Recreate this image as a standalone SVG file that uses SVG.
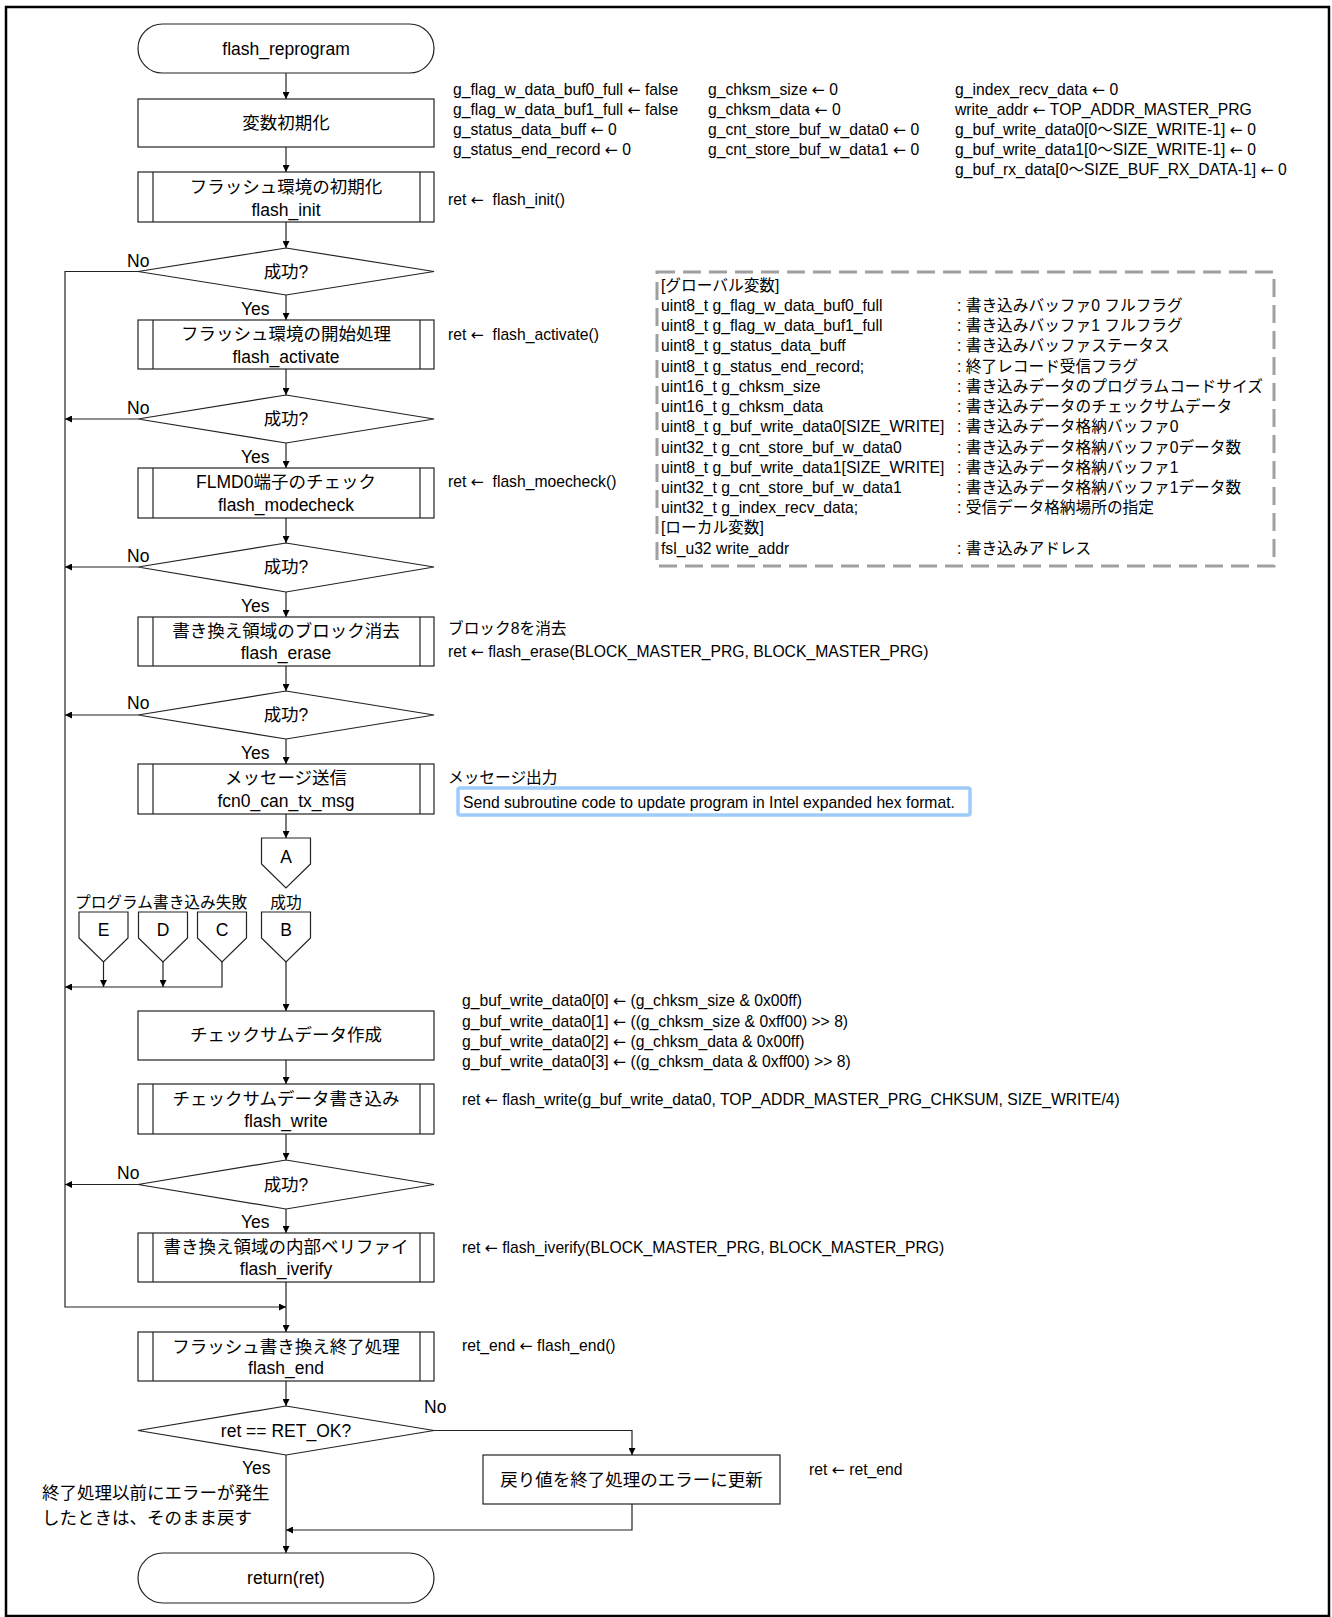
<svg xmlns="http://www.w3.org/2000/svg" width="1332" height="1617" viewBox="0 0 1332 1617">
<defs>
<marker id="ah" viewBox="0 0 10 10" refX="10" refY="5" markerWidth="8" markerHeight="7" markerUnits="userSpaceOnUse" orient="auto"><path d="M0,0 L10,5 L0,10 z" fill="#000"/></marker>
<style>
.n{fill:#fff;stroke:#222;stroke-width:1.2}
.sub{stroke:#222;stroke-width:1.2}
.c{fill:none;stroke:#222;stroke-width:1.2}
.ca{fill:none;stroke:#222;stroke-width:1.2;marker-end:url(#ah)}
.t{font-family:"Liberation Sans","Noto Sans CJK JP",sans-serif;font-size:17.5px;fill:#000}
.m{text-anchor:middle}
.a{font-family:"Liberation Sans","Noto Sans CJK JP",sans-serif;font-size:15.7px;fill:#000}
.ar{font-family:"DejaVu Sans",sans-serif}
</style>
</defs>
<rect x="6" y="7" width="1323" height="1609" fill="#fff" stroke="#000" stroke-width="2.5"/>

<g id="connectors">
<line class="ca" x1="286" y1="73" x2="286" y2="99"/>
<line class="ca" x1="286" y1="147" x2="286" y2="172"/>
<line class="ca" x1="286" y1="222" x2="286" y2="248"/>
<line class="ca" x1="286" y1="295" x2="286" y2="320"/>
<line class="ca" x1="286" y1="369" x2="286" y2="395"/>
<line class="ca" x1="286" y1="443" x2="286" y2="468"/>
<line class="ca" x1="286" y1="518" x2="286" y2="543"/>
<line class="ca" x1="286" y1="592" x2="286" y2="617"/>
<line class="ca" x1="286" y1="666" x2="286" y2="691"/>
<line class="ca" x1="286" y1="739" x2="286" y2="764"/>
<line class="ca" x1="286" y1="814" x2="286" y2="838"/>
<line class="ca" x1="286" y1="962" x2="286" y2="1011"/>
<line class="ca" x1="286" y1="1060" x2="286" y2="1084"/>
<line class="ca" x1="286" y1="1134" x2="286" y2="1160"/>
<line class="ca" x1="286" y1="1209" x2="286" y2="1233"/>
<line class="ca" x1="286" y1="1282" x2="286" y2="1332"/>
<line class="ca" x1="286" y1="1381" x2="286" y2="1406"/>
<line class="ca" x1="286" y1="1455" x2="286" y2="1553"/>
<path class="ca" d="M138,271.5 H65 V1307 H286"/>
<line class="ca" x1="138" y1="419" x2="65" y2="419"/>
<line class="ca" x1="138" y1="567" x2="65" y2="567"/>
<line class="ca" x1="138" y1="715" x2="65" y2="715"/>
<line class="ca" x1="138" y1="1184.5" x2="65" y2="1184.5"/>
<line class="ca" x1="103.5" y1="962" x2="103.5" y2="987"/>
<line class="ca" x1="163" y1="962" x2="163" y2="987"/>
<path class="ca" d="M222,962 V987 H65"/>
<path class="ca" d="M434,1430.5 H632 V1455"/>
<path class="ca" d="M632,1504 V1530 H286"/>
</g>

<g id="n_start">
<rect class="n" x="138" y="24" width="296" height="49" rx="24.5"/>
<text class="t m" x="286" y="55">flash_reprogram</text>
</g>
<g id="n_init_vars">
<rect class="n" x="138" y="99" width="296" height="48"/>
<text class="t m" x="286" y="129">変数初期化</text>
</g>
<g id="n_flash_init">
<rect class="n" x="138" y="172" width="296" height="50"/>
<line class="sub" x1="153" y1="172" x2="153" y2="222"/>
<line class="sub" x1="420" y1="172" x2="420" y2="222"/>
<text class="t m" x="286" y="193">フラッシュ環境の初期化</text>
<text class="t m" x="286" y="216">flash_init</text>
</g>
<g id="n_d1">
<polygon class="n" points="286,248 434,271.5 286,295 138,271.5"/>
<text class="t m" x="286" y="278">成功?</text>
<text class="t" x="127" y="267">No</text>
<text class="t" x="241" y="315">Yes</text>
</g>
<g id="n_activate">
<rect class="n" x="138" y="320" width="296" height="49"/>
<line class="sub" x1="153" y1="320" x2="153" y2="369"/>
<line class="sub" x1="420" y1="320" x2="420" y2="369"/>
<text class="t m" x="286" y="340">フラッシュ環境の開始処理</text>
<text class="t m" x="286" y="363">flash_activate</text>
</g>
<g id="n_d2">
<polygon class="n" points="286,395 434,419 286,443 138,419"/>
<text class="t m" x="286" y="425">成功?</text>
<text class="t" x="127" y="414">No</text>
<text class="t" x="241" y="463">Yes</text>
</g>
<g id="n_modecheck">
<rect class="n" x="138" y="468" width="296" height="50"/>
<line class="sub" x1="153" y1="468" x2="153" y2="518"/>
<line class="sub" x1="420" y1="468" x2="420" y2="518"/>
<text class="t m" x="286" y="488">FLMD0端子のチェック</text>
<text class="t m" x="286" y="511">flash_modecheck</text>
</g>
<g id="n_d3">
<polygon class="n" points="286,543 434,567 286,592 138,567"/>
<text class="t m" x="286" y="573">成功?</text>
<text class="t" x="127" y="562">No</text>
<text class="t" x="241" y="612">Yes</text>
</g>
<g id="n_erase">
<rect class="n" x="138" y="617" width="296" height="49"/>
<line class="sub" x1="153" y1="617" x2="153" y2="666"/>
<line class="sub" x1="420" y1="617" x2="420" y2="666"/>
<text class="t m" x="286" y="637">書き換え領域のブロック消去</text>
<text class="t m" x="286" y="659">flash_erase</text>
</g>
<g id="n_d4">
<polygon class="n" points="286,691 434,715 286,739 138,715"/>
<text class="t m" x="286" y="721">成功?</text>
<text class="t" x="127" y="709">No</text>
<text class="t" x="241" y="759">Yes</text>
</g>
<g id="n_msg">
<rect class="n" x="138" y="764" width="296" height="50"/>
<line class="sub" x1="153" y1="764" x2="153" y2="814"/>
<line class="sub" x1="420" y1="764" x2="420" y2="814"/>
<text class="t m" x="286" y="784">メッセージ送信</text>
<text class="t m" x="286" y="807">fcn0_can_tx_msg</text>
</g>
<g id="n_A">
<polygon class="n" points="261.5,838 310.5,838 310.5,864 286,888 261.5,864"/>
<text class="t m" x="286" y="863">A</text>
</g>
<text class="a m" x="286" y="908">成功</text>
<text class="a" x="75" y="908">プログラム書き込み失敗</text>
<g id="n_E">
<polygon class="n" points="79,912 128,912 128,938 103.5,962 79,938"/>
<text class="t m" x="103.5" y="936">E</text>
</g>
<g id="n_D">
<polygon class="n" points="138.5,912 187.5,912 187.5,938 163,962 138.5,938"/>
<text class="t m" x="163" y="936">D</text>
</g>
<g id="n_C">
<polygon class="n" points="197.5,912 246.5,912 246.5,938 222,962 197.5,938"/>
<text class="t m" x="222" y="936">C</text>
</g>
<g id="n_B">
<polygon class="n" points="261.5,912 310.5,912 310.5,938 286,962 261.5,938"/>
<text class="t m" x="286" y="936">B</text>
</g>
<g id="n_chksum">
<rect class="n" x="138" y="1011" width="296" height="49"/>
<text class="t m" x="286" y="1041">チェックサムデータ作成</text>
</g>
<g id="n_write">
<rect class="n" x="138" y="1084" width="296" height="50"/>
<line class="sub" x1="153" y1="1084" x2="153" y2="1134"/>
<line class="sub" x1="420" y1="1084" x2="420" y2="1134"/>
<text class="t m" x="286" y="1105">チェックサムデータ書き込み</text>
<text class="t m" x="286" y="1127">flash_write</text>
</g>
<g id="n_d5">
<polygon class="n" points="286,1160 434,1184.5 286,1209 138,1184.5"/>
<text class="t m" x="286" y="1191">成功?</text>
<text class="t" x="117" y="1179">No</text>
<text class="t" x="241" y="1228">Yes</text>
</g>
<g id="n_iverify">
<rect class="n" x="138" y="1233" width="296" height="49"/>
<line class="sub" x1="153" y1="1233" x2="153" y2="1282"/>
<line class="sub" x1="420" y1="1233" x2="420" y2="1282"/>
<text class="t m" x="286" y="1253">書き換え領域の内部ベリファイ</text>
<text class="t m" x="286" y="1275">flash_iverify</text>
</g>
<g id="n_end">
<rect class="n" x="138" y="1332" width="296" height="49"/>
<line class="sub" x1="153" y1="1332" x2="153" y2="1381"/>
<line class="sub" x1="420" y1="1332" x2="420" y2="1381"/>
<text class="t m" x="286" y="1353">フラッシュ書き換え終了処理</text>
<text class="t m" x="286" y="1374">flash_end</text>
</g>
<g id="n_d6">
<polygon class="n" points="286,1406 434,1430.5 286,1455 138,1430.5"/>
<text class="t m" x="286" y="1437">ret == RET_OK?</text>
<text class="t" x="424" y="1413">No</text>
<text class="t" x="242" y="1474">Yes</text>
</g>
<g id="n_update">
<rect class="n" x="483" y="1455" width="297" height="49"/>
<text class="t m" x="631.5" y="1486">戻り値を終了処理のエラーに更新</text>
</g>
<text class="t" x="42" y="1499">終了処理以前にエラーが発生</text>
<text class="t" x="42" y="1524">したときは、そのまま戻す</text>
<g id="n_return">
<rect class="n" x="138" y="1553" width="296" height="50" rx="25"/>
<text class="t m" x="286" y="1584">return(ret)</text>
</g>

<g id="annotations">
<text class="a" x="453" y="95">g_flag_w_data_buf0_full <tspan class="ar">←</tspan> false</text>
<text class="a" x="453" y="115">g_flag_w_data_buf1_full <tspan class="ar">←</tspan> false</text>
<text class="a" x="453" y="135">g_status_data_buff <tspan class="ar">←</tspan> 0</text>
<text class="a" x="453" y="155">g_status_end_record <tspan class="ar">←</tspan> 0</text>
<text class="a" x="708" y="95">g_chksm_size <tspan class="ar">←</tspan> 0</text>
<text class="a" x="708" y="115">g_chksm_data <tspan class="ar">←</tspan> 0</text>
<text class="a" x="708" y="135">g_cnt_store_buf_w_data0 <tspan class="ar">←</tspan> 0</text>
<text class="a" x="708" y="155">g_cnt_store_buf_w_data1 <tspan class="ar">←</tspan> 0</text>
<text class="a" x="955" y="95">g_index_recv_data <tspan class="ar">←</tspan> 0</text>
<text class="a" x="955" y="115">write_addr <tspan class="ar">←</tspan> TOP_ADDR_MASTER_PRG</text>
<text class="a" x="955" y="135">g_buf_write_data0[0～SIZE_WRITE-1] <tspan class="ar">←</tspan> 0</text>
<text class="a" x="955" y="155">g_buf_write_data1[0～SIZE_WRITE-1] <tspan class="ar">←</tspan> 0</text>
<text class="a" x="955" y="175">g_buf_rx_data[0～SIZE_BUF_RX_DATA-1] <tspan class="ar">←</tspan> 0</text>
<text class="a" x="448" y="205">ret <tspan class="ar">←</tspan>&#160; flash_init()</text>
<text class="a" x="448" y="340">ret <tspan class="ar">←</tspan>&#160; flash_activate()</text>
<text class="a" x="448" y="487">ret <tspan class="ar">←</tspan>&#160; flash_moecheck()</text>
<text class="a" x="448" y="634">ブロック8を消去</text>
<text class="a" x="448" y="657">ret <tspan class="ar">←</tspan> flash_erase(BLOCK_MASTER_PRG, BLOCK_MASTER_PRG)</text>
<text class="a" x="448" y="783">メッセージ出力</text>
<rect x="458" y="788" width="512" height="27" rx="2" fill="#fff" stroke="#9ecbfa" stroke-width="3.5"/>
<text class="a" x="463" y="808">Send subroutine code to update program in Intel expanded hex format.</text>
<text class="a" x="462" y="1006">g_buf_write_data0[0] <tspan class="ar">←</tspan> (g_chksm_size &amp; 0x00ff)</text>
<text class="a" x="462" y="1027">g_buf_write_data0[1] <tspan class="ar">←</tspan> ((g_chksm_size &amp; 0xff00) &gt;&gt; 8)</text>
<text class="a" x="462" y="1047">g_buf_write_data0[2] <tspan class="ar">←</tspan> (g_chksm_data &amp; 0x00ff)</text>
<text class="a" x="462" y="1067">g_buf_write_data0[3] <tspan class="ar">←</tspan> ((g_chksm_data &amp; 0xff00) &gt;&gt; 8)</text>
<text class="a" x="462" y="1105">ret <tspan class="ar">←</tspan> flash_write(g_buf_write_data0, TOP_ADDR_MASTER_PRG_CHKSUM, SIZE_WRITE/4)</text>
<text class="a" x="462" y="1253">ret <tspan class="ar">←</tspan> flash_iverify(BLOCK_MASTER_PRG, BLOCK_MASTER_PRG)</text>
<text class="a" x="462" y="1351">ret_end <tspan class="ar">←</tspan> flash_end()</text>
<text class="a" x="809" y="1475">ret <tspan class="ar">←</tspan> ret_end</text>
</g>

<g id="n_vars">
<rect x="657" y="272" width="617" height="294" fill="none" stroke="#a0a0a0" stroke-width="3" stroke-dasharray="18 8"/>
<text class="a" x="661" y="291">[グローバル変数]</text>
<text class="a" x="661" y="311">uint8_t g_flag_w_data_buf0_full</text>
<text class="a" x="661" y="331">uint8_t g_flag_w_data_buf1_full</text>
<text class="a" x="661" y="351">uint8_t g_status_data_buff</text>
<text class="a" x="661" y="372">uint8_t g_status_end_record;</text>
<text class="a" x="661" y="392">uint16_t g_chksm_size</text>
<text class="a" x="661" y="412">uint16_t g_chksm_data</text>
<text class="a" x="661" y="432">uint8_t g_buf_write_data0[SIZE_WRITE]</text>
<text class="a" x="661" y="453">uint32_t g_cnt_store_buf_w_data0</text>
<text class="a" x="661" y="473">uint8_t g_buf_write_data1[SIZE_WRITE]</text>
<text class="a" x="661" y="493">uint32_t g_cnt_store_buf_w_data1</text>
<text class="a" x="661" y="513">uint32_t g_index_recv_data;</text>
<text class="a" x="661" y="533">[ローカル変数]</text>
<text class="a" x="661" y="554">fsl_u32 write_addr</text>
<text class="a" x="957" y="311">: 書き込みバッファ0 フルフラグ</text>
<text class="a" x="957" y="331">: 書き込みバッファ1 フルフラグ</text>
<text class="a" x="957" y="351">: 書き込みバッファステータス</text>
<text class="a" x="957" y="372">: 終了レコード受信フラグ</text>
<text class="a" x="957" y="392">: 書き込みデータのプログラムコードサイズ</text>
<text class="a" x="957" y="412">: 書き込みデータのチェックサムデータ</text>
<text class="a" x="957" y="432">: 書き込みデータ格納バッファ0</text>
<text class="a" x="957" y="453">: 書き込みデータ格納バッファ0データ数</text>
<text class="a" x="957" y="473">: 書き込みデータ格納バッファ1</text>
<text class="a" x="957" y="493">: 書き込みデータ格納バッファ1データ数</text>
<text class="a" x="957" y="513">: 受信データ格納場所の指定</text>
<text class="a" x="957" y="554">: 書き込みアドレス</text>
</g>
</svg>
